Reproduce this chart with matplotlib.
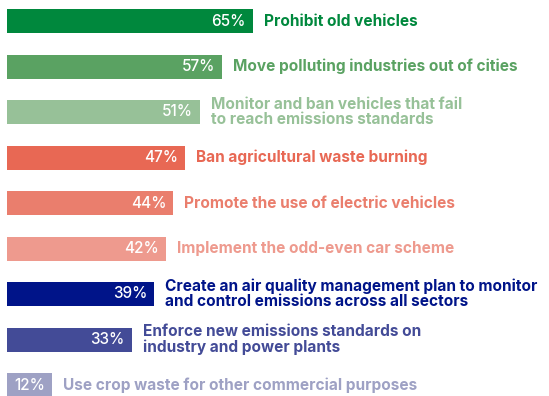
import matplotlib
matplotlib.use("Agg")
import matplotlib.pyplot as plt

categories = [
    "Prohibit old vehicles",
    "Move polluting industries out of cities",
    "Monitor and ban vehicles that fail\nto reach emissions standards",
    "Ban agricultural waste burning",
    "Promote the use of electric vehicles",
    "Implement the odd-even car scheme",
    "Create an air quality management plan to monitor\nand control emissions across all sectors",
    "Enforce new emissions standards on\nindustry and power plants",
    "Use crop waste for other commercial purposes",
]
values = [65, 57, 51, 47, 44, 42, 39, 33, 12]
colors = ["#00883d", "#5aa262", "#97c198", "#e86854", "#ea7e6d", "#ee9a8e",
          "#001489", "#434b97", "#9ea1c4"]

W, H = 549, 396
fig = plt.figure(figsize=(W / 100, H / 100), dpi=100)
ax = fig.add_axes([0, 0, 1, 1])

px_per = 3.78   # pixels per percentage point
left_px = 7
step_px = 45.5
first_center = 21
bar_px = 24

ax.set_xlim(-left_px / px_per, (W - left_px) / px_per)
ax.set_ylim((H - first_center) / step_px, -first_center / step_px)
ax.axis("off")

font = "Inter"
for i, (cat, v, c) in enumerate(zip(categories, values, colors)):
    ax.barh(i, v, height=bar_px / step_px, color=c, left=0)
    ax.text(v - 7 / px_per, i, f"{v}%", ha="right", va="center",
            color="white", fontsize=11, family=font, fontweight="medium")
    ax.text(v + 11 / px_per, i, cat, ha="left", va="center",
            color=c, fontsize=11.1, family=font, fontweight="bold",
            linespacing=1.0)

fig.savefig("out.png", dpi=100)
